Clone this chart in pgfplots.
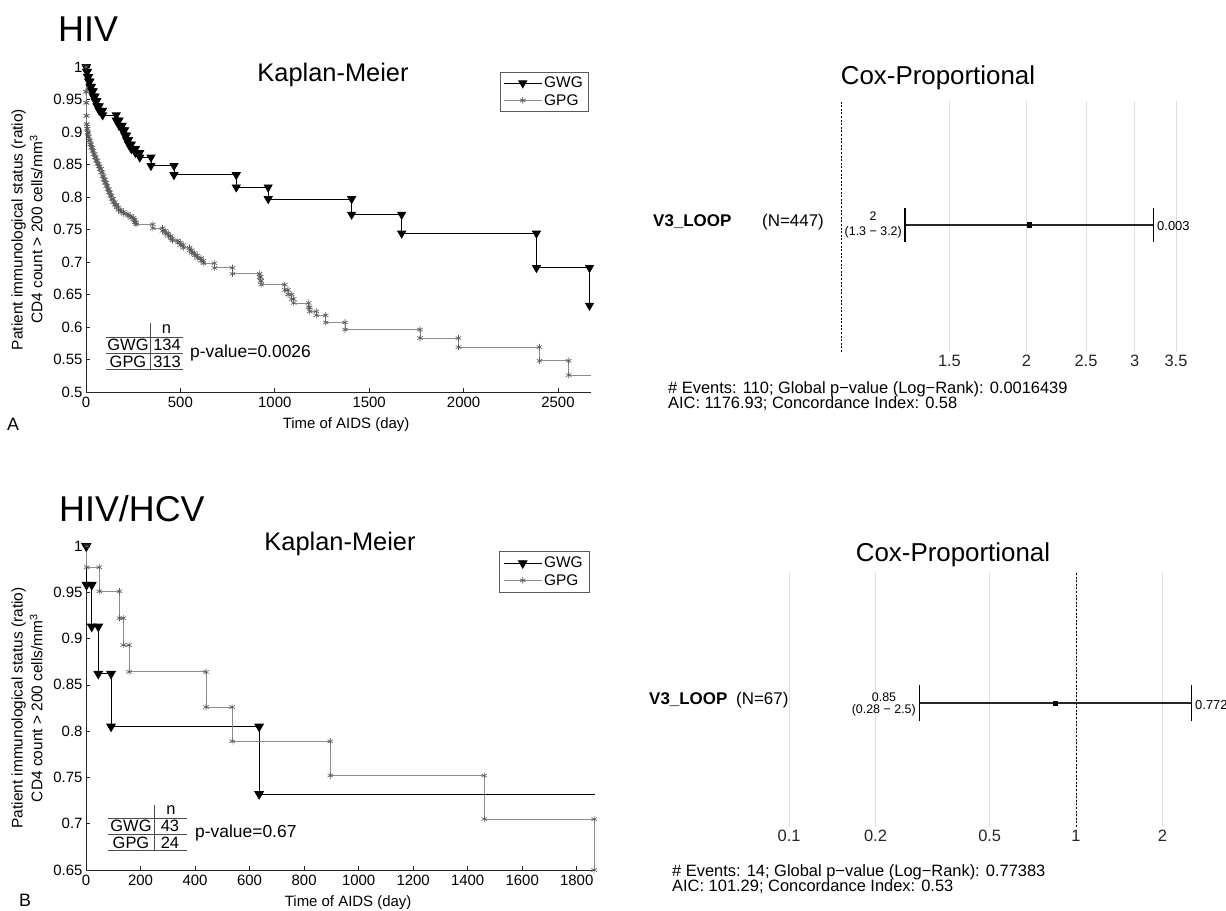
\documentclass[border=0pt]{standalone}
\usepackage{fontspec}
\setmainfont{Liberation Sans}
\usepackage{pgfplots}
\pgfplotsset{compat=1.18}
\newcommand\fs[2]{\fontsize{#1}{#2}\selectfont}
\pgfplotsset{
  kmaxis/.style={scale only axis, xmin=0, ymax=1,
    axis x line*=bottom, axis y line*=left,
    axis line style={-, black!85, line width=0.7bp},
    tick align=inside, major tick length=4bp,
    tick style={black!85, line width=0.6bp},
    xticklabel style={font=\fs{15}{17}, yshift=-2bp},
    yticklabel style={font=\fs{15}{17}},
    xlabel style={font=\fs{15}{17}, anchor=center},
    ylabel style={font=\fs{15.5}{20}, align=center, anchor=center},
    clip=false,
    legend style={draw=black!65, font=\fs{15.5}{17}, inner sep=3bp, cells={anchor=west}, row sep=1bp},
    legend image code/.code={\draw[mark repeat=2,mark phase=2,##1] plot coordinates {(0bp,0bp)(19bp,0bp)(38bp,0bp)};}
  },
  coxaxis/.style={scale only axis, ymin=0, ymax=1, ytick=\empty,
    axis line style={draw=none}, xtick style={draw=none},
    xmajorgrids, grid style={black!12, line width=0.7bp},
    xticklabel style={font=\fs{16.5}{18}, text=black!85},
    clip=false},
  gwg/.style={black, line width=0.8bp, mark=triangle*, mark size=4.6bp, mark options={rotate=180, fill=black, solid}},
  gpg/.style={black!45, line width=0.8bp, mark=asterisk, mark size=3.2bp, mark options={black!65, line width=0.6bp}},
}
\begin{document}
\begin{tikzpicture}[x=1bp,y=1bp]
\path[use as bounding box] (0,0) rectangle (1226,911);

% ---------------- A: HIV Kaplan-Meier ----------------
\begin{axis}[kmaxis, at={(86bp,519bp)}, anchor=south west, width=505bp, height=325bp,
  xmax=2675, ymin=0.5,
  xtick={0,500,1000,1500,2000,2500}, xticklabels={0,500,1000,1500,2000,2500},
  ytick={0.5,0.55,0.6,0.65,0.7,0.75,0.8,0.85,0.9,0.95,1},
  yticklabels={0.5,0.55,0.6,0.65,0.7,0.75,0.8,0.85,0.9,0.95,1},
  xlabel={Time of AIDS (day)}, xlabel style={at={(axis description cs:0.515,-0.1)}},
  ylabel={Patient immunological status (ratio)\\CD4 count > 200 cells/mm\textsuperscript{3}},
  ylabel style={at={(axis description cs:-0.1168,0.5)}},
  legend style={at={(0.994,0.985)}, anchor=north east}]
\addplot[gwg] coordinates {(0,1) (3,1) (3,0.993) (8,0.993) (8,0.985) (14,0.985) (14,0.978) (21,0.978) (21,0.970) (29,0.970) (29,0.963) (38,0.963) (38,0.955) (48,0.955) (48,0.948) (58,0.948) (58,0.940) (70,0.940) (70,0.933) (88,0.933) (88,0.926) (160,0.926) (160,0.918) (175,0.918) (175,0.910) (192,0.910) (192,0.903) (205,0.903) (205,0.895) (215,0.895) (215,0.888) (226,0.888) (226,0.881) (240,0.881) (240,0.874) (262,0.874) (262,0.868) (285,0.868) (285,0.861) (344,0.861) (344,0.848) (466,0.848) (466,0.834) (796,0.834) (796,0.815) (965,0.815) (965,0.797) (1407,0.797) (1407,0.773) (1672,0.773) (1672,0.744) (2386,0.744) (2386,0.691) (2667,0.691) (2667,0.633)};
\addlegendentry{GWG}
\addplot[gpg] coordinates {(0,1) (0,0.962) (1,0.962)(1,0.945) (2,0.945)(2,0.925) (3,0.925)(3,0.912) (5,0.912)(5,0.905) (8,0.905)(8,0.899) (12,0.899)(12,0.893) (16,0.893)(16,0.887) (22,0.887)(22,0.881) (28,0.881)(28,0.876) (34,0.876)(34,0.871) (40,0.871)(40,0.866) (46,0.866)(46,0.861) (53,0.861)(53,0.856) (60,0.856)(60,0.851) (67,0.851)(67,0.847) (73,0.847)(73,0.843) (80,0.843)(80,0.838) (87,0.838)(87,0.832) (94,0.832)(94,0.827) (100,0.827)(100,0.822) (107,0.822)(107,0.817) (114,0.817)(114,0.812) (121,0.812)(121,0.807) (128,0.807)(128,0.802) (136,0.802)(136,0.797) (144,0.797)(144,0.792) (152,0.792)(152,0.788) (162,0.788)(162,0.784) (172,0.784)(172,0.780) (185,0.780)(185,0.777) (200,0.777)(200,0.774) (222,0.774)(222,0.771) (238,0.771)(238,0.768) (252,0.768)(252,0.765) (258,0.765)(258,0.761) (265,0.761)(265,0.758) (354,0.758)(354,0.752) (405,0.752)(405,0.748) (420,0.748)(420,0.744) (436,0.744)(436,0.740) (448,0.740)(448,0.736) (458,0.736)(458,0.733) (487,0.733)(487,0.730) (500,0.730)(500,0.726) (515,0.726)(515,0.722) (548,0.722)(548,0.718) (560,0.718)(560,0.714) (575,0.714)(575,0.710) (590,0.710)(590,0.706) (609,0.706)(609,0.702) (622,0.702)(622,0.698) (680,0.698)(680,0.691) (776,0.691)(776,0.682) (920,0.682)(920,0.677) (925,0.677)(925,0.671) (928,0.671)(928,0.665) (1053,0.665)(1053,0.657) (1070,0.657)(1070,0.650) (1090,0.650)(1090,0.643) (1100,0.643)(1100,0.637) (1179,0.637)(1179,0.630) (1185,0.630)(1185,0.624) (1220,0.624)(1220,0.618) (1270,0.618)(1270,0.607) (1372,0.607)(1372,0.596) (1769,0.596)(1769,0.583) (1973,0.583)(1973,0.569) (2402,0.569)(2402,0.548) (2557,0.548)(2557,0.526)};
\addlegendentry{GPG}
\addplot[black!45, line width=0.8bp, forget plot] coordinates {(2557,0.526)(2675,0.526)};
\end{axis}

% ---------------- B: HIV/HCV Kaplan-Meier ----------------
\begin{axis}[kmaxis, at={(86bp,41bp)}, anchor=south west, width=509bp, height=324bp,
  xmax=1867, ymin=0.65,
  xtick={0,200,400,600,800,1000,1200,1400,1600,1800},
  xticklabels={0,200,400,600,800,1000,1200,1400,1600,1800},
  ytick={0.65,0.7,0.75,0.8,0.85,0.9,0.95,1},
  yticklabels={0.65,0.7,0.75,0.8,0.85,0.9,0.95,1},
  xlabel={Time of AIDS (day)}, xlabel style={at={(axis description cs:0.515,-0.1)}},
  ylabel={Patient immunological status (ratio)\\CD4 count > 200 cells/mm\textsuperscript{3}},
  ylabel style={at={(axis description cs:-0.1159,0.5)}},
  legend style={at={(0.988,0.985)}, anchor=north east, inner sep=4bp}]
\addplot[gwg, mark size=5bp] coordinates {(0,1) (2,1) (2,0.958) (21,0.958) (21,0.913) (45,0.913) (45,0.862) (92,0.862) (92,0.805) (635,0.805) (635,0.732)};
\addlegendentry{GWG}
\addplot[gpg] coordinates {(3,1) (3,0.977) (49,0.977) (49,0.951) (123,0.951) (123,0.922) (137,0.922) (137,0.893) (158,0.893) (158,0.864) (440,0.864) (440,0.826) (536,0.826) (536,0.789) (896,0.789) (896,0.752) (1461,0.752) (1461,0.705) (1864,0.705) (1864,0.65)};
\addlegendentry{GPG}
\addplot[black, line width=0.8bp, forget plot] coordinates {(635,0.732)(1867,0.732)};
\end{axis}

% ---------------- Cox top ----------------
\begin{semilogxaxis}[coxaxis, at={(841bp,559bp)}, anchor=south west, width=342.5bp, height=251bp,
  xmin=1, xmax=3.6, xtick={1.5,2,2.5,3,3.5}, xticklabels={1.5,2,2.5,3,3.5}]
\addplot[black, line width=0.9bp, dash pattern=on 2bp off 1.6bp] coordinates {(1,0)(1,1)};
\addplot[black!85, line width=1.3bp] coordinates {(1.27,0.506)(3.22,0.506)};
\addplot[black, line width=1.3bp] coordinates {(1.27,0.438)(1.27,0.574)};
\addplot[black, line width=1.3bp] coordinates {(3.22,0.438)(3.22,0.574)};
\addplot[only marks, mark=square*, mark size=2.3bp, black] coordinates {(2.02,0.506)};
\end{semilogxaxis}

% ---------------- Cox bottom ----------------
\begin{semilogxaxis}[coxaxis, at={(761.3bp,84bp)}, anchor=south west, width=438.5bp, height=255bp,
  xmin=0.08, xmax=2.7, xtick={0.1,0.2,0.5,1,2}, xticklabels={0.1,0.2,0.5,1,2}]
\addplot[black, line width=0.9bp, dash pattern=on 2bp off 1.6bp] coordinates {(1,0)(1,1)};
\addplot[black!85, line width=1.3bp] coordinates {(0.284,0.486)(2.53,0.486)};
\addplot[black, line width=1.3bp] coordinates {(0.284,0.414)(0.284,0.558)};
\addplot[black, line width=1.3bp] coordinates {(2.53,0.414)(2.53,0.558)};
\addplot[only marks, mark=square*, mark size=2.3bp, black] coordinates {(0.845,0.486)};
\end{semilogxaxis}

% ---------------- texts: panel A ----------------
\node[font=\fs{36}{40}, anchor=base west, inner sep=0] at (58,869) {HIV};
\node[font=\fs{25.5}{27}] at (333,836) {Kaplan-Meier};
\node[font=\fs{18}{20}] at (13,487) {A};
\begin{scope}[black!70, line width=0.8bp]
\draw (106,574) -- (183,574);
\draw (106,558) -- (183,558);
\draw (106,542) -- (183,542);
\draw (150,588) -- (150,541);
\end{scope}
\begin{scope}[every node/.style={font=\fs{16.5}{18}, inner sep=0}]
\node at (166.5,582) {n};
\node at (128,566) {GWG};
\node at (167,566) {134};
\node at (128,549.5) {GPG};
\node at (167,549.5) {313};
\node[anchor=west, font=\fs{17.5}{18}] at (190,558) {p-value=0.0026};
\end{scope}

% ---------------- texts: panel B ----------------
\node[font=\fs{36}{40}, anchor=base west, inner sep=0] at (59,389) {HIV/HCV};
\node[font=\fs{25.5}{27}] at (340,367) {Kaplan-Meier};
\node[font=\fs{18}{20}] at (25,11) {B};
\begin{scope}[black!70, line width=0.8bp]
\draw (108,93) -- (186.5,93);
\draw (108,77) -- (186.5,77);
\draw (108,61) -- (186.5,61);
\draw (154,106) -- (154,61);
\end{scope}
\begin{scope}[every node/.style={font=\fs{16.5}{18}, inner sep=0}]
\node at (131,85) {GWG};
\node at (171,101) {n};
\node at (170,85) {43};
\node at (131,68.5) {GPG};
\node at (170,68.5) {24};
\node[anchor=west, font=\fs{17.5}{18}] at (195,78) {p-value=0.67};
\end{scope}

% ---------------- texts: Cox top ----------------
\node[font=\fs{26}{28}] at (938,833) {Cox-Proportional};
\node[font=\fs{17}{19}\bfseries, anchor=west, inner sep=0] at (653,689) {V3\_LOOP};
\node[font=\fs{17}{19}, anchor=west, inner sep=0] at (762,689) {(N=447)};
\node[font=\fs{12.5}{14}, inner sep=0] at (873,695) {2};
\node[font=\fs{12.5}{14}, anchor=east, inner sep=0] at (902,679) {(1.3 − 3.2)};
\node[font=\fs{13}{15}, anchor=west, inner sep=0] at (1157,685) {0.003};
\node[font=\fs{16.5}{17}, anchor=west, inner sep=0] at (668,522) {\# Events: 110; Global p−value (Log−Rank): 0.0016439};
\node[font=\fs{16.5}{17}, anchor=west, inner sep=0] at (668,507) {AIC: 1176.93; Concordance Index: 0.58};

% ---------------- texts: Cox bottom ----------------
\node[font=\fs{26}{28}] at (953,356) {Cox-Proportional};
\node[font=\fs{17}{19}\bfseries, anchor=west, inner sep=0] at (649,211) {V3\_LOOP};
\node[font=\fs{17}{19}, anchor=west, inner sep=0] at (736,211) {(N=67)};
\node[font=\fs{12.5}{14}, inner sep=0] at (884,214) {0.85};
\node[font=\fs{12.5}{14}, anchor=east, inner sep=0] at (916,201) {(0.28 − 2.5)};
\node[font=\fs{13}{15}, anchor=west, inner sep=0] at (1195,206) {0.772};
\node[font=\fs{16.5}{17}, anchor=west, inner sep=0] at (672,39) {\# Events: 14; Global p−value (Log−Rank): 0.77383};
\node[font=\fs{16.5}{17}, anchor=west, inner sep=0] at (672,24) {AIC: 101.29; Concordance Index: 0.53};
\end{tikzpicture}
\end{document}
